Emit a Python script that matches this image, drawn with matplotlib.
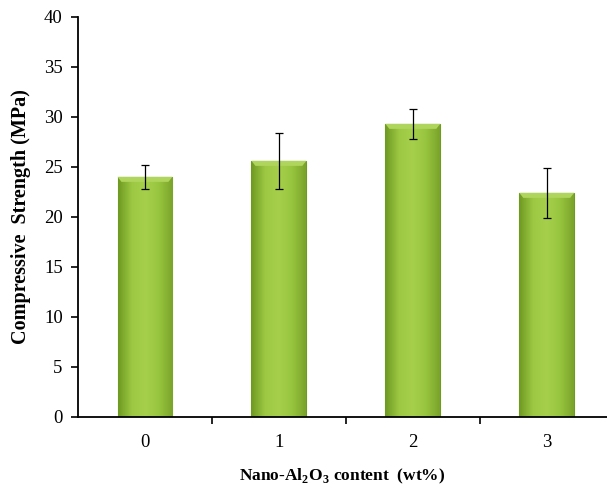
import numpy as np
import matplotlib.pyplot as plt
from matplotlib.colors import LinearSegmentedColormap

plt.rcParams['font.family'] = ['Liberation Serif', 'DejaVu Serif']
plt.rcParams['mathtext.fontset'] = 'custom'
plt.rcParams['mathtext.rm'] = 'Liberation Serif'
plt.rcParams['mathtext.bf'] = 'Liberation Serif:bold'

# data
content = ['0', '1', '2', '3']
strength = [24.0, 25.6, 29.3, 22.4]
err = [1.2, 2.8, 1.5, 2.5]

fig = plt.figure(figsize=(6.07, 4.91), dpi=100)
ax = fig.add_axes([0.1285, 0.151, 0.8715, 0.8147])

x = np.arange(len(content))
bars = ax.bar(x, strength, width=0.41, color='#8fbd38', edgecolor='#6f9a22',
              linewidth=0.8, zorder=2)

# vertical shading on each bar
cmap = LinearSegmentedColormap.from_list('g', ['#6f9a22', '#9cc843', '#a6d04c', '#98c53f', '#7aa42a'])
grad = np.linspace(0, 1, 64).reshape(1, -1)
for b in bars:
    x0, w, h = b.get_x(), b.get_width(), b.get_height()
    im = ax.imshow(grad, cmap=cmap, aspect='auto', extent=[x0, x0 + w, 0, h], zorder=2)
    im.set_clip_path(b)
    # light top bevel
    ax.fill([x0, x0 + w, x0 + w - 0.03, x0 + 0.03], [h, h, h - 0.5, h - 0.5],
            color='#b0d55c', zorder=3, lw=0)

ax.errorbar(x, strength, yerr=err, fmt='none', ecolor='black', elinewidth=0.9,
            capsize=3, capthick=0.9, zorder=4)

ax.set_xlim(-0.5, 3.45)
ax.set_ylim(0, 40)
ax.set_yticks(range(0, 41, 5))
ax.set_xticks(x)
ax.set_xticklabels(content)
ax.set_xticks([0.5, 1.5, 2.5], minor=True)
ax.tick_params(axis='x', which='major', length=0, labelsize=13.5, pad=12)
ax.tick_params(axis='x', which='minor', length=5, width=1.2, direction='out')
ax.tick_params(axis='y', length=5, width=1.2, direction='out', labelsize=13.5, pad=6)

for s in ['top', 'right']:
    ax.spines[s].set_visible(False)
ax.spines['left'].set_linewidth(1.3)
ax.spines['bottom'].set_linewidth(1.3)

ax.set_ylabel('Compressive  Strength (MPa)', fontsize=14.5, fontweight='bold', labelpad=9)
ax.set_xlabel(r'Nano-Al$_\mathbf{2}$O$_\mathbf{3}$ content  (wt%)', fontsize=12.5,
              fontweight='bold', labelpad=12)

fig.savefig('out.png', dpi=100)
